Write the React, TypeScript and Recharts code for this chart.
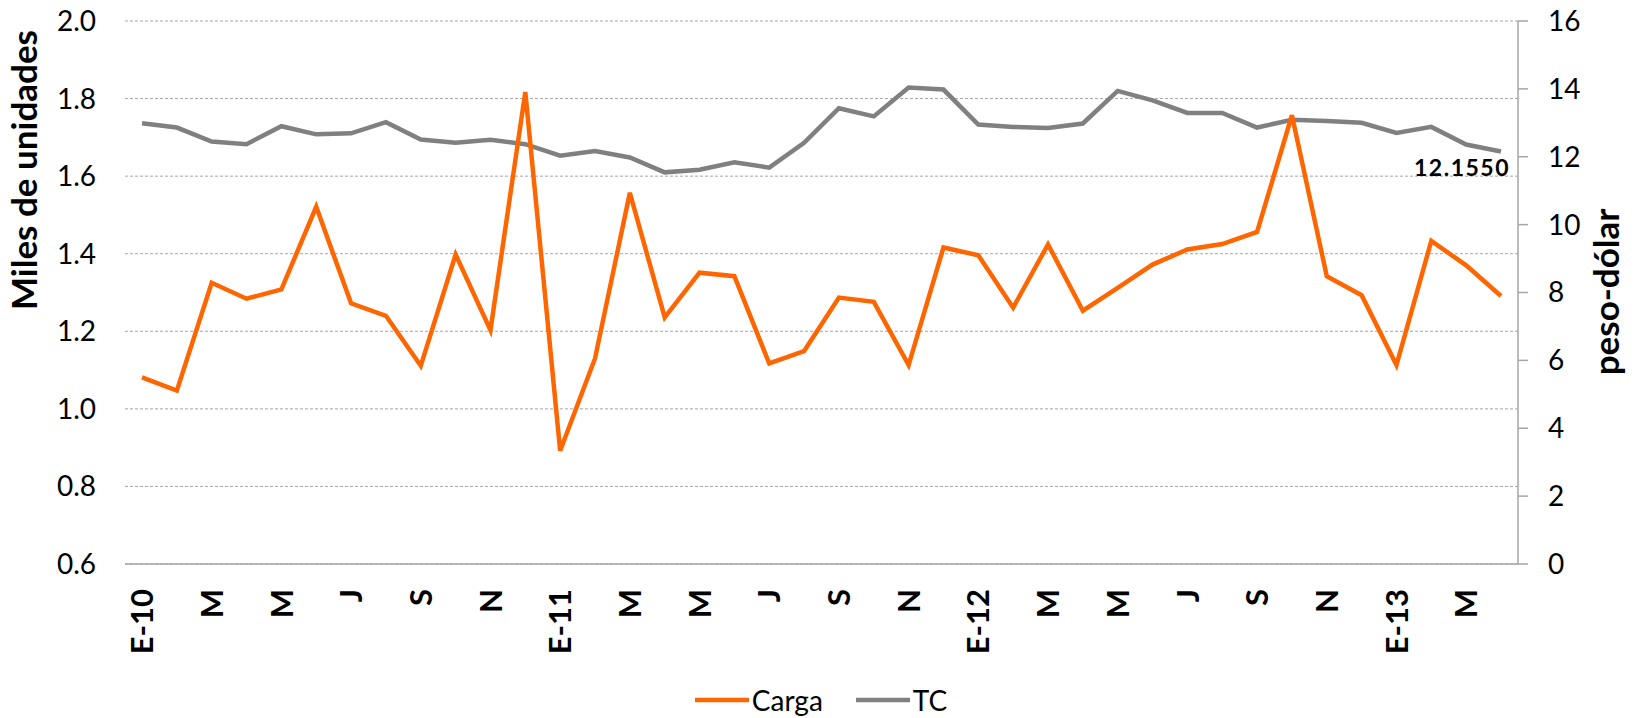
import React from "react";
import {
  LineChart,
  Line,
  XAxis,
  YAxis,
  CartesianGrid,
  Legend,
  LabelList,
} from "recharts";

// meses ene-2010 .. abr-2013
const MESES = [
  "E-10", "F", "M", "A", "M", "J", "J", "A", "S", "O", "N", "D",
  "E-11", "F", "M", "A", "M", "J", "J", "A", "S", "O", "N", "D",
  "E-12", "F", "M", "A", "M", "J", "J", "A", "S", "O", "N", "D",
  "E-13", "F", "M", "A",
];

// miles de unidades
const CARGA = [
  1.081, 1.047, 1.325, 1.284, 1.308, 1.521, 1.272, 1.24, 1.111, 1.398, 1.203, 1.817,
  0.892, 1.13, 1.557, 1.236, 1.351, 1.342, 1.117, 1.149, 1.287, 1.276, 1.113, 1.416,
  1.396, 1.261, 1.424, 1.253, 1.312, 1.372, 1.411, 1.425, 1.456, 1.757, 1.342, 1.293,
  1.113, 1.433, 1.37, 1.291,
];

// tipo de cambio peso-dólar
const TC = [
  12.99, 12.86, 12.45, 12.37, 12.9, 12.66, 12.69, 13.02, 12.51, 12.41, 12.5, 12.37,
  12.03, 12.17, 11.98, 11.54, 11.62, 11.84, 11.68, 12.41, 13.43, 13.19, 14.04, 13.98,
  12.95, 12.88, 12.85, 12.98, 13.94, 13.66, 13.29, 13.29, 12.86, 13.09, 13.05, 13.0,
  12.7, 12.88, 12.36, 12.155,
];

const LEFT_TICKS = [0.6, 0.8, 1.0, 1.2, 1.4, 1.6, 1.8, 2.0];
const RIGHT_TICKS = [0, 2, 4, 6, 8, 10, 12, 14, 16];
const SERIES_ORDER = ["Carga", "TC"];

const FONT = "Lato, Carlito, Calibri, 'Open Sans', sans-serif";
const ORANGE = "#ff6600";
const GRAY = "#808080";
const AXIS_GRAY = "#a6a6a6";

const data = MESES.map((mes, i) => ({ mes, carga: CARGA[i], tc: TC[i] }));

function MesTick(props: any) {
  const { x, y, payload } = props;
  const ty = y + 25;
  return (
    <text
      x={x}
      y={ty}
      transform={`rotate(-90, ${x}, ${ty})`}
      textAnchor="end"
      dy="0.36em"
      fontFamily={FONT}
      fontWeight={700}
      fontSize={31}
      fill="#000"
    >
      {payload.value}
    </text>
  );
}

const leftTitle = () => (
  <text
    x={37}
    y={170}
    transform="rotate(-90, 37, 170)"
    textAnchor="middle"
    fontFamily={FONT}
    fontWeight={700}
    fontSize={35}
    fill="#000"
  >
    Miles de unidades
  </text>
);

const rightTitle = () => (
  <text
    x={1619}
    y={292}
    transform="rotate(-90, 1619, 292)"
    textAnchor="middle"
    fontFamily={FONT}
    fontWeight={700}
    fontSize={35}
    fill="#000"
  >
    peso-dólar
  </text>
);

const tcLabel = (p: any) => {
  if (p.index !== TC.length - 1) return null;
  return (
    <text
      x={p.x + 9}
      y={p.y + 25}
      textAnchor="end"
      fontFamily={FONT}
      fontWeight={700}
      fontSize={23}
      letterSpacing={1.5}
      fill="#000"
    >
      {Number(p.value).toFixed(4)}
    </text>
  );
};

const renderLegend = (props: any) => {
  const items = [...(props.payload || [])].sort(
    (a: any, b: any) => SERIES_ORDER.indexOf(a.value) - SERIES_ORDER.indexOf(b.value)
  );
  return (
    <div
      style={{
        display: "flex",
        justifyContent: "center",
        alignItems: "center",
        height: 40,
        fontFamily: FONT,
        fontSize: 28,
        color: "#000",
        transform: "translateX(-2px)",
      }}
    >
      {items.map((it: any, i: number) => (
        <div
          key={it.value}
          style={{ display: "flex", alignItems: "center", marginRight: i < items.length - 1 ? 33 : 0 }}
        >
          <svg width={54} height={8} style={{ display: "block" }}>
            <line x1={0} y1={4} x2={54} y2={4} stroke={it.color} strokeWidth={4.5} />
          </svg>
          <span style={{ marginLeft: 3 }}>{it.value}</span>
        </div>
      ))}
    </div>
  );
};

export default function App() {
  return (
    <div style={{ width: 1646, height: 718, background: "#fff" }}>
      <style>{`body{margin:0}`}</style>
      <LineChart
        width={1646}
        height={718}
        data={data}
        margin={{ top: 21, right: 0, bottom: 0, left: 0 }}
      >
        <CartesianGrid
          yAxisId="left"
          vertical={false}
          stroke={AXIS_GRAY}
          strokeDasharray="3 2"
        />
        <XAxis
          dataKey="mes"
          interval={1}
          height={114}
          padding={{ left: 17, right: 17 }}
          tick={<MesTick />}
          tickLine={false}
          tickSize={0}
          tickMargin={0}
          axisLine={{ stroke: AXIS_GRAY, strokeWidth: 1.5 }}
        />
        <YAxis
          yAxisId="left"
          width={125}
          domain={[0.6, 2.0]}
          ticks={LEFT_TICKS}
          tickFormatter={(v: number) => v.toFixed(1)}
          axisLine={false}
          tickLine={false}
          tickSize={0}
          tickMargin={29}
          tick={{ fontFamily: FONT, fontSize: 28, fill: "#000" }}
          label={leftTitle}
        />
        <YAxis
          yAxisId="right"
          orientation="right"
          width={128}
          domain={[0, 16]}
          ticks={RIGHT_TICKS}
          axisLine={{ stroke: AXIS_GRAY, strokeWidth: 1.5 }}
          tickLine={{ stroke: AXIS_GRAY, strokeWidth: 1.5 }}
          tickSize={10}
          tickMargin={20}
          tick={{ fontFamily: FONT, fontSize: 28, fill: "#000" }}
          label={rightTitle}
        />
        <Legend
          verticalAlign="bottom"
          content={renderLegend}
          wrapperStyle={{ position: "absolute", left: 0, top: 680, width: 1646, height: 40 }}
        />
        <Line
          yAxisId="right"
          type="linear"
          dataKey="tc"
          name="TC"
          stroke={GRAY}
          strokeWidth={4.5}
          dot={false}
          activeDot={false}
          isAnimationActive={false}
        >
          <LabelList dataKey="tc" content={tcLabel} />
        </Line>
        <Line
          yAxisId="left"
          type="linear"
          dataKey="carga"
          name="Carga"
          stroke={ORANGE}
          strokeWidth={4.5}
          dot={false}
          activeDot={false}
          isAnimationActive={false}
        />
      </LineChart>
    </div>
  );
}
